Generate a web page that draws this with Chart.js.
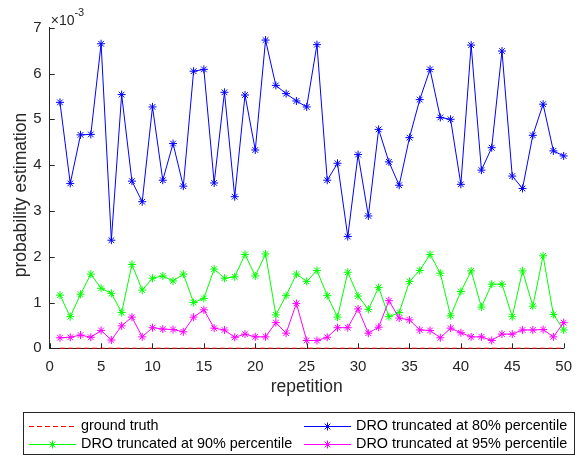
<!DOCTYPE html>
<html>
<head>
<meta charset="utf-8">
<script src="https://cdn.jsdelivr.net/npm/chart.js@4"></script>
<style>
    body { margin: 0; background: #ffffff; }
    canvas { display: block; }
</style>
</head>
<body>
<canvas id="grafico" width="582" height="458"></canvas>
<script>
// valores em unidades de 10^-3
const repeticoes = [
    1, 2, 3, 4, 5, 6, 7, 8, 9, 10,
    11, 12, 13, 14, 15, 16, 17, 18, 19, 20,
    21, 22, 23, 24, 25, 26, 27, 28, 29, 30,
    31, 32, 33, 34, 35, 36, 37, 38, 39, 40,
    41, 42, 43, 44, 45, 46, 47, 48, 49, 50
];

const groundTruth = [
    0.002, 0.002, 0.002, 0.002, 0.002, 0.002, 0.002, 0.002, 0.002, 0.002,
    0.002, 0.002, 0.002, 0.002, 0.002, 0.002, 0.002, 0.002, 0.002, 0.002,
    0.002, 0.002, 0.002, 0.002, 0.002, 0.002, 0.002, 0.002, 0.002, 0.002,
    0.002, 0.002, 0.002, 0.002, 0.002, 0.002, 0.002, 0.002, 0.002, 0.002,
    0.002, 0.002, 0.002, 0.002, 0.002, 0.002, 0.002, 0.002, 0.002, 0.002
];

const dro80 = [
    5.37, 3.60, 4.66, 4.67, 6.65, 2.36, 5.54, 3.65, 3.20, 5.27,
    3.67, 4.47, 3.54, 6.05, 6.09, 3.61, 5.59, 3.31, 5.53, 4.33,
    6.73, 5.74, 5.56, 5.40, 5.27, 6.63, 3.67, 4.04, 2.44, 4.23,
    2.89, 4.78, 4.07, 3.56, 4.60, 5.43, 6.09, 5.04, 5.00, 3.58,
    6.62, 3.89, 4.38, 6.49, 3.76, 3.49, 4.65, 5.33, 4.31, 4.20
];

const dro90 = [
    1.16, 0.69, 1.18, 1.62, 1.31, 1.20, 0.78, 1.83, 1.27, 1.53,
    1.58, 1.47, 1.62, 1.00, 1.09, 1.73, 1.53, 1.56, 2.05, 1.58,
    2.06, 0.73, 1.15, 1.62, 1.46, 1.70, 1.15, 0.68, 1.66, 1.14,
    0.85, 1.33, 0.69, 0.78, 1.46, 1.70, 2.05, 1.64, 0.71, 1.24,
    1.69, 0.90, 1.40, 1.40, 0.69, 1.69, 0.92, 2.02, 0.74, 0.40
];

const dro95 = [
    0.23, 0.24, 0.29, 0.24, 0.39, 0.18, 0.49, 0.68, 0.25, 0.45,
    0.42, 0.41, 0.36, 0.68, 0.84, 0.44, 0.40, 0.24, 0.31, 0.25,
    0.25, 0.56, 0.33, 0.98, 0.17, 0.17, 0.24, 0.45, 0.45, 0.86,
    0.33, 0.46, 1.04, 0.66, 0.62, 0.40, 0.39, 0.23, 0.44, 0.34,
    0.25, 0.25, 0.17, 0.31, 0.31, 0.40, 0.40, 0.41, 0.25, 0.56
];

const ticksX = [0, 5, 10, 15, 20, 25, 30, 35, 40, 45, 50];
const ticksY = [0, 1, 2, 3, 4, 5, 6, 7];

const fonte = "'Liberation Sans', Arial, sans-serif";
const corEixo = '#262626';

function pontos(valores) {
    return repeticoes.map((r, i) => ({ x: r, y: valores[i] }));
}

function serie(label, valores, cor, ordem, extra) {
    return Object.assign({
        label: label,
        data: pontos(valores),
        borderColor: cor,
        backgroundColor: cor,
        borderWidth: 1,
        pointStyle: 'star',
        pointRadius: 4,
        pointBorderWidth: 1,
        pointBorderColor: cor,
        pointBackgroundColor: cor,
        tension: 0,
        clip: false,
        order: ordem
    }, extra || {});
}

const datasets = [
    serie('ground truth', groundTruth, '#ff0000', 3, { borderDash: [5, 3], pointRadius: 0 }),
    serie('DRO truncated at 80% percentile', dro80, '#0000ff', 2),
    serie('DRO truncated at 90% percentile', dro90, '#00ff00', 1),
    serie('DRO truncated at 95% percentile', dro95, '#ff00ff', 0)
];

// ticks para dentro, multiplicador e titulo do eixo y
const eixosMatlab = {
    id: 'eixosMatlab',
    beforeDatasetsDraw(chart) {
        const ctx = chart.ctx;
        const x = chart.scales.x;
        const y = chart.scales.y;
        const a = chart.chartArea;
        ctx.save();
        ctx.strokeStyle = corEixo;
        ctx.lineWidth = 1;
        ctx.beginPath();
        ticksX.forEach(t => {
            const px = Math.round(x.getPixelForValue(t)) + 0.5;
            ctx.moveTo(px, a.bottom);
            ctx.lineTo(px, a.bottom - 5);
        });
        ticksY.forEach(t => {
            const py = Math.round(y.getPixelForValue(t)) + 0.5;
            ctx.moveTo(a.left, py);
            ctx.lineTo(a.left + 5, py);
        });
        ctx.stroke();

        ctx.fillStyle = corEixo;
        ctx.textBaseline = 'alphabetic';
        ctx.textAlign = 'left';
        ctx.font = '14px ' + fonte;
        ctx.fillText('\u00d710', a.left + 1, 25);
        const w = ctx.measureText('\u00d710').width;
        ctx.font = '11px ' + fonte;
        ctx.fillText('-3', a.left + 1 + w, 16);

        ctx.translate(21, 195);
        ctx.rotate(-Math.PI / 2);
        ctx.font = '17.5px ' + fonte;
        ctx.textAlign = 'center';
        ctx.textBaseline = 'middle';
        ctx.fillText('probability estimation', 0, 0);
        ctx.restore();
    }
};

// legenda em duas colunas com moldura
const legendaCaixa = {
    id: 'legendaCaixa',
    afterDraw(chart) {
        const ctx = chart.ctx;
        const caixa = { x: 23.5, y: 412.5, w: 551, h: 42 };
        const colunas = [29, 304];
        const linhas = [426, 444];
        ctx.save();
        ctx.fillStyle = '#ffffff';
        ctx.fillRect(caixa.x, caixa.y, caixa.w, caixa.h);
        ctx.strokeStyle = corEixo;
        ctx.lineWidth = 1;
        ctx.strokeRect(caixa.x, caixa.y, caixa.w, caixa.h);

        datasets.forEach((ds, i) => {
            const x0 = colunas[i % 2];
            const y0 = linhas[Math.floor(i / 2)] + 0.5;
            const cor = ds.borderColor;

            ctx.setLineDash(ds.borderDash || []);
            ctx.strokeStyle = cor;
            ctx.lineWidth = 1;
            ctx.beginPath();
            ctx.moveTo(x0, y0);
            ctx.lineTo(x0 + 47, y0);
            ctx.stroke();
            ctx.setLineDash([]);

            if (ds.pointRadius > 0) {
                ctx.strokeStyle = cor;
                ctx.fillStyle = cor;
                Chart.helpers.drawPoint(ctx, {
                    pointStyle: 'star',
                    radius: 4,
                    borderWidth: 1
                }, x0 + 23.5, y0);
            }

            ctx.fillStyle = '#000000';
            ctx.font = '14.4px ' + fonte;
            ctx.textAlign = 'left';
            ctx.textBaseline = 'middle';
            ctx.fillText(ds.label, x0 + 52, y0);
        });
        ctx.restore();
    }
};

const config = {
    type: 'line',
    data: { datasets: datasets },
    options: {
        responsive: false,
        animation: false,
        events: [],
        layout: {
            padding: { left: 0, right: 8.7, top: 27.7, bottom: 0 }
        },
        plugins: {
            legend: { display: false },
            tooltip: { enabled: false }
        },
        scales: {
            x: {
                type: 'linear',
                min: 0,
                max: 50,
                afterBuildTicks(scale) {
                    scale.ticks = ticksX.map(v => ({ value: v }));
                },
                afterFit(scale) {
                    scale.height = 109.7;
                },
                ticks: {
                    color: corEixo,
                    font: { family: fonte, size: 15 },
                    padding: 10,
                    maxRotation: 0
                },
                grid: { display: false, drawTicks: false },
                border: { display: true, color: corEixo, width: 1 },
                title: {
                    display: true,
                    text: 'repetition',
                    color: corEixo,
                    font: { family: fonte, size: 17.5 },
                    padding: { top: 0, bottom: 60 }
                }
            },
            y: {
                type: 'linear',
                min: 0,
                max: 7,
                afterBuildTicks(scale) {
                    scale.ticks = ticksY.map(v => ({ value: v }));
                },
                afterFit(scale) {
                    scale.width = 49.7;
                },
                ticks: {
                    color: corEixo,
                    font: { family: fonte, size: 15 },
                    padding: 8
                },
                grid: { display: false, drawTicks: false },
                border: { display: true, color: corEixo, width: 1 }
            }
        }
    },
    plugins: [eixosMatlab, legendaCaixa]
};

const grafico = new Chart(document.getElementById('grafico'), config);
</script>
</body>
</html>
